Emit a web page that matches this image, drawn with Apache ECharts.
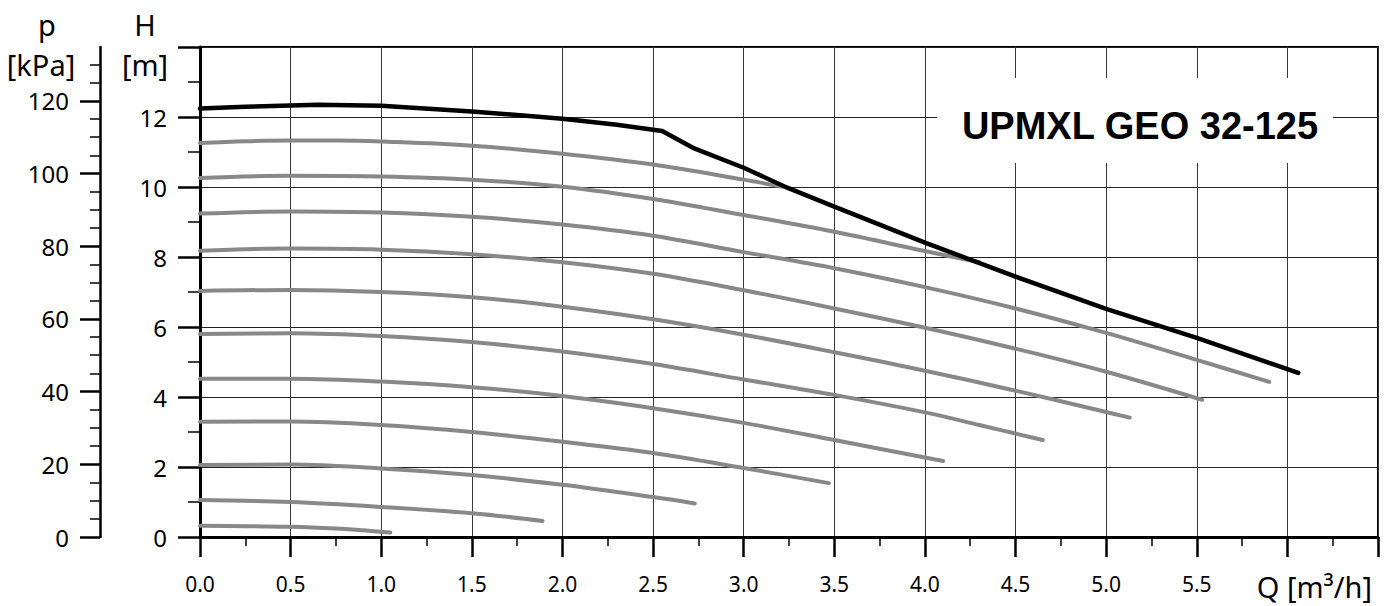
<!DOCTYPE html>
<html>
<head>
<meta charset="utf-8">
<script src="https://cdn.jsdelivr.net/npm/echarts@6/dist/echarts.min.js"></script>
<style>
html,body{margin:0;padding:0;background:#fff;}
#chart{width:1388px;height:606px;}
</style>
</head>
<body>
<div id="chart"></div>
<script>
// ---- data ----
const chartTitle = 'UPMXL GEO 32-125';
const qLabel = 'Q [m³/h]';
const hName = 'H';
const hUnit = '[m]';
const pName = 'p';
const pUnit = '[kPa]';

const xTickLabels = ['0.0','0.5','1.0','1.5','2.0','2.5','3.0','3.5','4.0','4.5','5.0','5.5'];
const hMajorTicks = [0, 2, 4, 6, 8, 10, 12, 14];
const hTickLabels = ['0', '2', '4', '6', '8', '10', '12'];
const hMinorTicks = [1, 3, 5, 7, 9, 11, 13];
const pMajorTicks = [0, 20, 40, 60, 80, 100, 120];
const pMinorTicks = [5,10,15,25,30,35,45,50,55,65,70,75,85,90,95,105,110,115,125,130];

// max curve (black)
const maxQ = [0, 0.25, 0.5, 0.65, 1.0, 1.5, 2.0, 2.3, 2.55, 2.72, 3.0, 3.24, 3.5, 4.0, 4.5, 5.0, 5.5, 6.06];
const maxH = [12.24, 12.29, 12.33, 12.35, 12.32, 12.16, 11.95, 11.78, 11.6, 11.12, 10.55, 9.98, 9.44, 8.41, 7.44, 6.52, 5.69, 4.69];

// speed curves (grey), [Q, H]
const curve1 = [[0,11.26],[0.25,11.31],[0.5,11.33],[0.75,11.33],[1.0,11.30],[1.5,11.18],[2.0,10.95],[2.5,10.64],[3.0,10.21],[3.21,10.01]];
const curve2 = [[0,10.26],[0.5,10.32],[1.0,10.30],[1.5,10.21],[2.0,10.01],[2.5,9.66],[3.0,9.2],[3.5,8.72],[4.0,8.17],[4.3,7.85]];
const curve3 = [[0,9.24],[0.5,9.3],[1.0,9.27],[1.5,9.15],[2.0,8.93],[2.5,8.61],[3.0,8.14],[3.5,7.68],[4.0,7.14],[4.5,6.53],[5.0,5.83],[5.5,5.06],[5.9,4.43]];
const curve4 = [[0,8.18],[0.5,8.24],[1.0,8.21],[1.5,8.08],[2.0,7.85],[2.5,7.52],[3.0,7.05],[3.5,6.53],[4.0,5.98],[4.5,5.38],[5.0,4.72],[5.53,3.92]];
const curve5 = [[0,7.03],[0.5,7.06],[1.0,7.0],[1.5,6.85],[2.0,6.58],[2.5,6.22],[3.0,5.78],[3.5,5.28],[4.0,4.75],[4.5,4.18],[5.0,3.57],[5.13,3.41]];
const curve6 = [[0,5.8],[0.5,5.82],[1.0,5.74],[1.5,5.57],[2.0,5.3],[2.5,4.94],[3.0,4.5],[3.5,4.06],[4.0,3.56],[4.3,3.2],[4.65,2.77]];
const curve7 = [[0,4.52],[0.5,4.52],[1.0,4.44],[1.5,4.28],[2.0,4.03],[2.5,3.68],[3.0,3.26],[3.5,2.77],[4.1,2.17]];
const curve8 = [[0,3.29],[0.5,3.3],[1.0,3.2],[1.5,3.0],[2.0,2.72],[2.5,2.4],[3.0,1.97],[3.47,1.54]];
const curve9 = [[0,2.06],[0.5,2.07],[1.0,1.96],[1.5,1.77],[2.0,1.49],[2.5,1.14],[2.73,0.96]];
const curve10 = [[0,1.06],[0.5,1.0],[1.0,0.86],[1.5,0.68],[1.89,0.46]];
const curve11 = [[0,0.32],[0.25,0.31],[0.5,0.29],[0.75,0.24],[0.9,0.19],[1.05,0.13]];

const speedCurves = [curve1, curve2, curve3, curve4, curve5, curve6, curve7, curve8, curve9, curve10, curve11];

// ---- chart ----
const FONT = 'Noto Sans';
const chart = echarts.init(document.getElementById('chart'), null, {renderer: 'svg'});

const greySeries = speedCurves.map(function (c) {
  return {
    type: 'line', data: c, xAxisIndex: 0, yAxisIndex: 0,
    showSymbol: false, symbol: 'none', smooth: 0.35, z: 2, silent: true,
    lineStyle: {color: '#888888', width: 4, cap: 'round', join: 'round'}
  };
});

const blackSeries = {
  type: 'line', data: maxQ.map(function (q, i) { return [q, maxH[i]]; }),
  xAxisIndex: 0, yAxisIndex: 0, showSymbol: false, symbol: 'none', smooth: false, z: 3, silent: true,
  lineStyle: {color: '#000', width: 4.5, cap: 'round', join: 'round'}
};

const option = {
  backgroundColor: '#fff',
  animation: false,
  grid: {left: 200, top: 47, right: 10, bottom: 69, show: true, borderColor: '#000', borderWidth: 2, backgroundColor: 'transparent'},
  xAxis: [{
    type: 'value', min: 0, max: 6.5, interval: 0.5,
    axisLine: {show: true, onZero: false, lineStyle: {color: '#000', width: 3}},
    axisTick: {show: true, length: 20, lineStyle: {color: '#000', width: 2.5}},
    minorTick: {show: true, splitNumber: 2, length: 9, lineStyle: {color: '#000', width: 1.5}},
    axisLabel: {
      margin: 36, fontFamily: FONT, fontSize: 21, color: '#000',
      formatter: function (v) { const i = Math.round(v / 0.5); return i < xTickLabels.length ? xTickLabels[i] : ''; }
    },
    splitLine: {show: true, lineStyle: {color: '#3a3a3a', width: 1}},
    minorSplitLine: {show: false}
  }],
  yAxis: [{
    type: 'value', position: 'left', min: 0, max: 14, interval: 2,
    axisLine: {show: true, onZero: false, lineStyle: {color: '#000', width: 3}},
    axisTick: {show: true, length: 22, customValues: hMajorTicks, lineStyle: {color: '#000', width: 2.5}},
    minorTick: {show: false},
    axisLabel: {margin: 33, fontFamily: FONT, fontSize: 24, color: '#000',
      formatter: function (v) { const i = Math.round(v / 2); return i < hTickLabels.length ? hTickLabels[i] : ''; }},
    splitLine: {show: true, lineStyle: {color: '#222', width: 1}}
  }, {
    type: 'value', position: 'left', offset: 100, min: 0, max: 134.8, interval: 20,
    axisLine: {show: true, onZero: false, lineStyle: {color: '#000', width: 2.5}},
    axisTick: {show: true, length: 20, customValues: pMajorTicks, lineStyle: {color: '#000', width: 2.5}},
    minorTick: {show: false},
    axisLabel: {margin: 31, fontFamily: FONT, fontSize: 24, color: '#000', customValues: pMajorTicks,
      formatter: function (v) { return pMajorTicks.indexOf(v) >= 0 ? String(v) : ''; }},
    splitLine: {show: false}
  }, {
    type: 'value', position: 'left', offset: 100, min: 0, max: 134.8, interval: 5,
    axisLine: {show: false, onZero: false},
    axisTick: {show: true, length: 10, customValues: pMinorTicks, lineStyle: {color: '#000', width: 1.5}},
    minorTick: {show: false},
    axisLabel: {show: false},
    splitLine: {show: false}
  }, {
    type: 'value', position: 'left', offset: 0, min: 0, max: 14, interval: 1,
    axisLine: {show: false, onZero: false},
    axisTick: {show: true, length: 12, customValues: hMinorTicks, lineStyle: {color: '#000', width: 1.5}},
    minorTick: {show: false},
    axisLabel: {show: false},
    splitLine: {show: false}
  }],
  graphic: [
    {type: 'rect', z: 50, shape: {x: 937, y: 78, width: 396, height: 85}, style: {fill: '#fff'}},
    {type: 'text', z: 51, x: 1140, y: 126, style: {text: chartTitle, font: 'bold 38px "Liberation Sans", Arial, sans-serif', fill: '#000', align: 'center', verticalAlign: 'middle'}},
    {type: 'text', z: 51, x: 47, y: 24, style: {text: pName, font: '29px "Noto Sans"', fill: '#000', align: 'center', verticalAlign: 'middle'}},
    {type: 'text', z: 51, x: 41, y: 64, style: {text: pUnit, font: '29px "Noto Sans"', fill: '#000', align: 'center', verticalAlign: 'middle'}},
    {type: 'text', z: 51, x: 145, y: 24, style: {text: hName, font: '29px "Noto Sans"', fill: '#000', align: 'center', verticalAlign: 'middle'}},
    {type: 'text', z: 51, x: 145, y: 64, style: {text: hUnit, font: '29px "Noto Sans"', fill: '#000', align: 'center', verticalAlign: 'middle'}},
    {type: 'text', z: 51, x: 1372, y: 586, style: {text: qLabel, font: '29px "Noto Sans"', fill: '#000', align: 'right', verticalAlign: 'middle'}}
  ],
  series: greySeries.concat([blackSeries])
};
chart.setOption(option);
</script>
</body>
</html>
